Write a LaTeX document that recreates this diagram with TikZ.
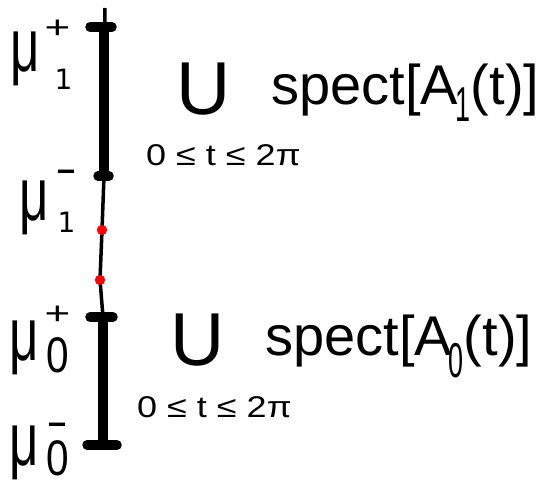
\documentclass[tikz,border=0pt]{standalone}
\usepackage{graphicx}
\usepackage{fontspec}
\setmainfont{Liberation Sans}
\newfontfamily\narrowfont[FakeStretch=0.81]{Liberation Sans}
\newfontfamily\mufont[FakeStretch=0.68]{Liberation Sans}
\newfontfamily\tallfont[FakeStretch=0.55]{Liberation Sans}
\newfontfamily\widefont[FakeStretch=1.2]{Liberation Sans}
\newfontfamily\dejafont{DejaVu Sans}
\newcommand{\supplus}{\scalebox{1.1}[0.8]{\fontsize{40}{40}\selectfont +}}
\newcommand{\supminus}{\scalebox{1.5}[1]{\fontsize{44}{44}\selectfont -}}
\newcommand{\subone}{{\dejafont\fontsize{28}{28}\selectfont 1}}
\newcommand{\subzero}{{\narrowfont\fontsize{50}{50}\selectfont 0}}
\newcommand{\subA}[2]{\raisebox{-#2pt}{\tallfont\fontsize{49}{49}\selectfont #1}}
\begin{document}
\begin{tikzpicture}[
  x=1pt, y=-1pt,
  % spectrum segments
  thickseg/.style={line width=10pt},
  thinseg/.style={line width=3.5pt},
  bar/.style={line width=9.5pt, line cap=round},
  reddot/.style={circle, fill=red, inner sep=0pt, minimum size=10pt},
  % labels
  mu/.style={anchor=base west, inner sep=0pt,
             font=\mufont\fontsize{75}{75}\selectfont},
  supr/.style={anchor=base, inner sep=0pt},
  subs/.style={anchor=base, inner sep=0pt},
  union/.style={anchor=base, inner sep=0pt, font=\fontsize{75}{75}\selectfont},
  spect/.style={anchor=base west, inner sep=0pt,
                font=\fontsize{56}{56}\selectfont},
  rangetext/.style={anchor=base west, inner sep=0pt,
                font=\widefont\fontsize{30}{30}\selectfont},
]
\useasboundingbox (0,0) rectangle (549,484);

%% -- end points of the bands ------------------------------------------
\coordinate (tip) at (105,8);
\coordinate (m1p) at (104,27);
\coordinate (m1m) at (104,176);
\coordinate (m0p) at (103,317);
\coordinate (m0m) at (103,445);
\node[reddot] (r1) at (102,230) {};
\node[reddot] (r2) at (100,280) {};

%% -- axis and bands ---------------------------------------------------
\draw[thinseg] (tip) -- (m1m) -- (r1.center) -- (r2.center) -- (m0p);
\draw[thickseg] (m1p) -- (m1m);
\draw[thickseg] (m0p) -- (m0m);
\foreach \c/\l/\r in {m1p/14/8, m1m/6/5, m0p/13/10, m0m/16/14}
  \draw[bar] ([xshift=-\l pt]\c) -- ([xshift=\r pt]\c);
\node[reddot] at (r1) {};
\node[reddot] at (r2) {};

%% -- band edge labels -------------------------------------------------
\node[mu] (l1p) at (10,72) {μ};
\node[supr] (l1p-sup) at (57.5,39) {\supplus};
\node[subs] (l1p-sub) at (63.5,90) {\subone};

\node[mu] (l1m) at (19,220) {μ};
\node[supr] (l1m-sup) at (66.5,183.5) {\supminus};
\node[subs] (l1m-sub) at (66.5,232) {\subone};

\node[mu] (l0p) at (9,360) {μ};
\node[supr] (l0p-sup) at (57.5,324) {\supplus};
\node[subs] (l0p-sub) at (57.5,372) {\subzero};

\node[mu] (l0m) at (9,465) {μ};
\node[supr] (l0m-sup) at (57.5,436) {\supminus};
\node[subs] (l0m-sub) at (57.5,475) {\subzero};

%% -- union of spectra -------------------------------------------------
\node[union] (u1) at (204,115) {U};
\node[spect] (s1) at (271,105) {spect[A\kern-2pt\subA{1}{17}(t)]};
\node[rangetext] (t1) at (146,166) {0 ≤ t ≤ 2π};

\node[union] (u0) at (197.5,365) {U};
\node[spect] (s0) at (265,355) {spect[A\kern-3pt\subA{0}{22}(t)]};
\node[rangetext] (t0) at (137,417) {0 ≤ t ≤ 2π};

\end{tikzpicture}
\end{document}
